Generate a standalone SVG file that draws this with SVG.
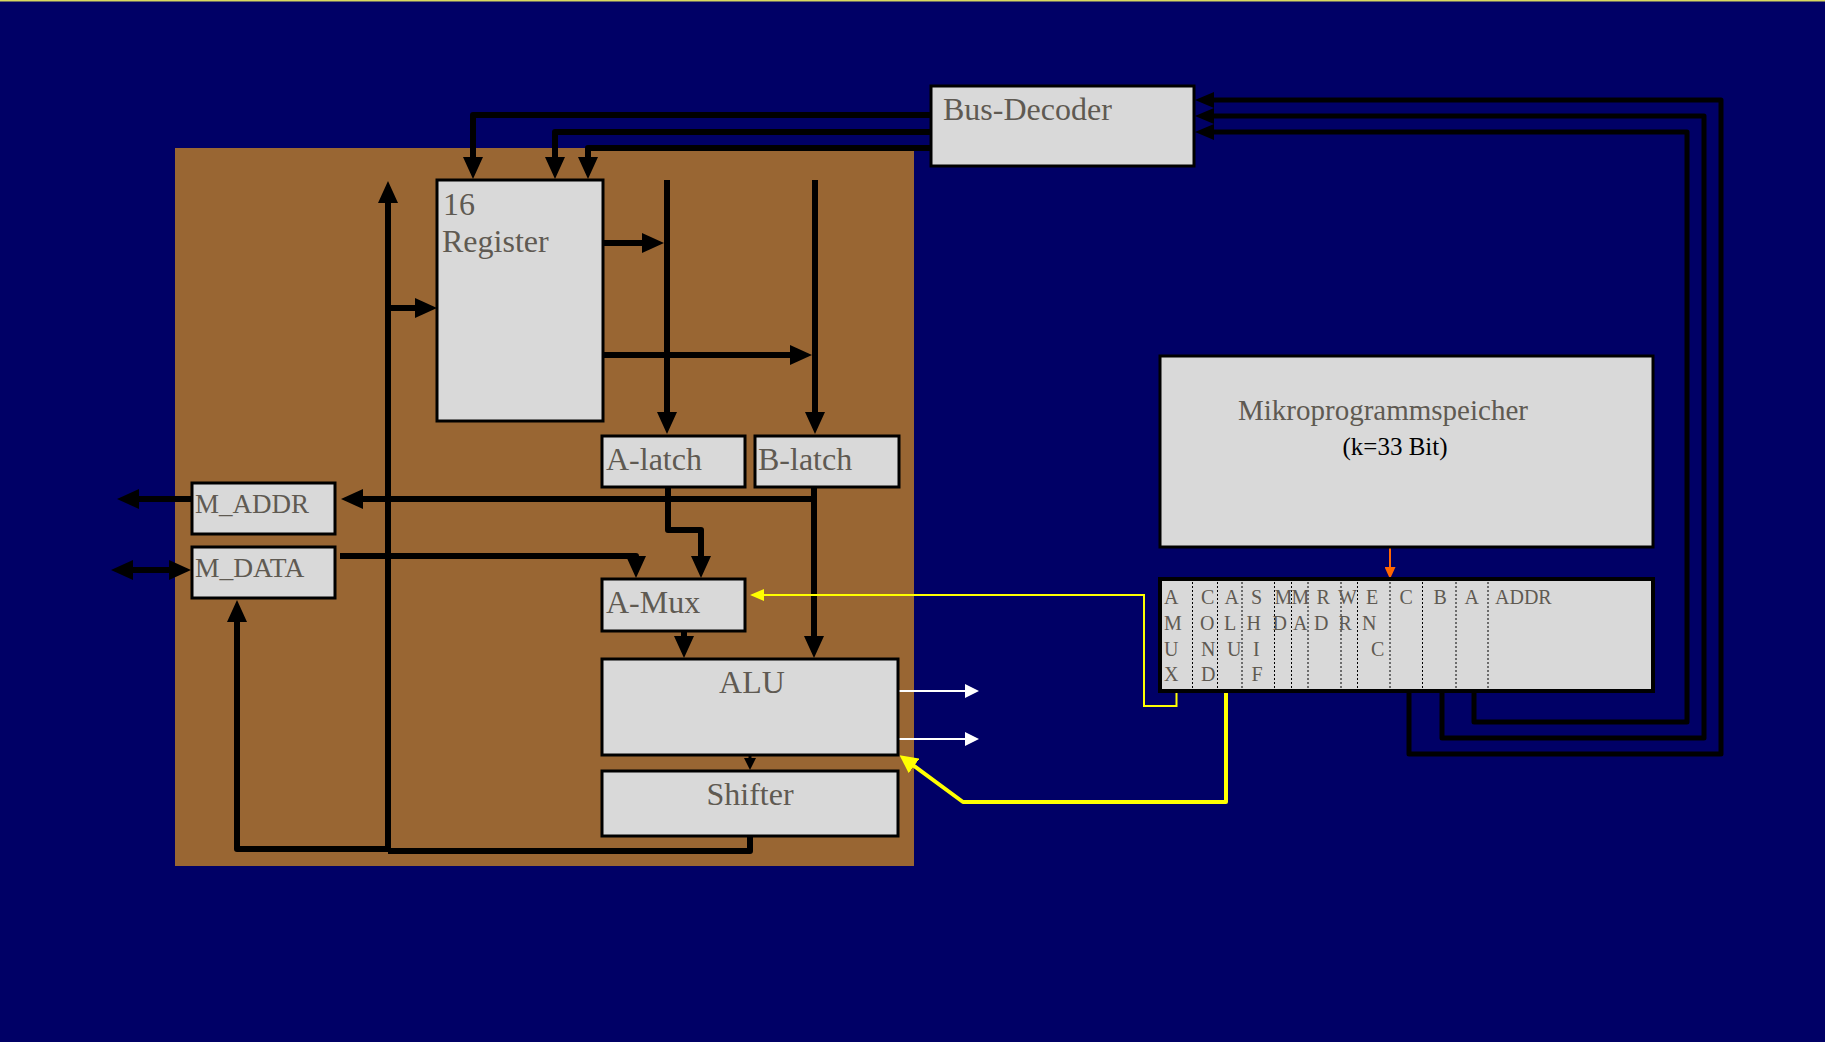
<svg xmlns="http://www.w3.org/2000/svg" width="1825" height="1042" viewBox="0 0 1825 1042">
<style>
.box{fill:#d9d9d9;stroke:#000;stroke-width:3}
.lbl{font-family:"Liberation Serif","Times New Roman",serif;fill:#5f5a52;font-size:32px}
.fld{font-family:"Liberation Serif","Times New Roman",serif;fill:#5f5a52;font-size:20px}
.bus{fill:none;stroke:#000;stroke-width:6;stroke-linejoin:round}
.bus5{fill:none;stroke:#000;stroke-width:5;stroke-linejoin:round}
.div{stroke:#000;stroke-width:1;stroke-dasharray:2,2}
</style>
<defs>
<marker id="ah" viewBox="0 0 22 20" markerWidth="22" markerHeight="20" refX="10" refY="10" orient="auto-start-reverse" markerUnits="userSpaceOnUse"><path d="M0,0 L22,10 L0,20 z" fill="#000"/></marker>
<marker id="ahr" viewBox="0 0 19 16" markerWidth="19" markerHeight="16" refX="9" refY="8" orient="auto" markerUnits="userSpaceOnUse"><path d="M0,0 L19,8 L0,16 z" fill="#000"/></marker>
<marker id="ahs" viewBox="0 0 12 12" markerWidth="12" markerHeight="12" refX="6" refY="6" orient="auto" markerUnits="userSpaceOnUse"><path d="M0,0 L12,6 L0,12 z" fill="#000"/></marker>
<marker id="ay" viewBox="0 0 14 12" markerWidth="14" markerHeight="12" refX="12" refY="6" orient="auto" markerUnits="userSpaceOnUse"><path d="M0,0 L14,6 L0,12 z" fill="#ffff00"/></marker>
<marker id="ay2" viewBox="0 0 18 18" markerWidth="18" markerHeight="18" refX="10" refY="9" orient="auto" markerUnits="userSpaceOnUse"><path d="M0,0 L18,9 L0,18 z" fill="#ffff00"/></marker>
<marker id="aw" viewBox="0 0 14 14" markerWidth="14" markerHeight="14" refX="12" refY="7" orient="auto" markerUnits="userSpaceOnUse"><path d="M0,0 L14,7 L0,14 z" fill="#fff"/></marker>
<marker id="ao" viewBox="0 0 12 11" markerWidth="12" markerHeight="11" refX="10" refY="5.5" orient="auto" markerUnits="userSpaceOnUse"><path d="M0,0 L12,5.5 L0,11 z" fill="#ff6600"/></marker>
</defs>
<rect x="0" y="0" width="1825" height="1042" fill="#000066"/>
<rect x="0" y="0" width="1825" height="1.5" fill="#d8d860"/>
<rect id="datapath-bg" x="175" y="148" width="739" height="718" fill="#996633"/>

<g id="connectors">
  <path class="bus" d="M931,115 H473 V167" marker-end="url(#ah)"/>
  <path class="bus" d="M931,132 H555 V167" marker-end="url(#ah)"/>
  <path class="bus" d="M931,148 H588 V167" marker-end="url(#ah)"/>
  <path class="bus" d="M388,851 V193" marker-end="url(#ah)"/>
  <path class="bus" d="M388,308 H425" marker-end="url(#ah)"/>
  <path class="bus" d="M603,243 H652" marker-end="url(#ah)"/>
  <path class="bus" d="M603,355 H800" marker-end="url(#ah)"/>
  <path class="bus" d="M667,180 V422" marker-end="url(#ah)"/>
  <path class="bus" d="M815,180 V422" marker-end="url(#ah)"/>
  <path class="bus" d="M814,487 V646" marker-end="url(#ah)"/>
  <path class="bus" d="M814,499 H353" marker-end="url(#ah)"/>
  <path class="bus" d="M191,499 H129" marker-end="url(#ah)"/>
  <path class="bus" d="M123,570 H179" marker-start="url(#ah)" marker-end="url(#ah)"/>
  <path class="bus" d="M340,556 H636 V566" marker-end="url(#ah)"/>
  <path class="bus" d="M668,487 V530 H701 V566" marker-end="url(#ah)"/>
  <path class="bus" d="M684,631 V646" marker-end="url(#ah)"/>
  <path d="M750,755 V764" stroke="#000" stroke-width="3" marker-end="url(#ahs)"/>
  <path class="bus" d="M750,836 V851 H388"/>
  <path class="bus" d="M388,849 H237 V612" marker-end="url(#ah)"/>
  <path class="bus5" d="M1409,692 V754 H1721 V100 H1205" marker-end="url(#ahr)"/>
  <path class="bus5" d="M1442,692 V738 H1704 V116 H1205" marker-end="url(#ahr)"/>
  <path class="bus5" d="M1474,692 V722 H1687 V132 H1205" marker-end="url(#ahr)"/>
  <path d="M1176.5,692 V706 H1144 V595 H752" fill="none" stroke="#ffff00" stroke-width="2" marker-end="url(#ay)"/>
  <path d="M1226,692 V802 H963 L906,760" fill="none" stroke="#ffff00" stroke-width="4" stroke-linejoin="round" marker-end="url(#ay2)"/>
  <path d="M898,691 H977" stroke="#fff" stroke-width="2" marker-end="url(#aw)"/>
  <path d="M898,739 H977" stroke="#fff" stroke-width="2" marker-end="url(#aw)"/>
  <path d="M1390,548 V577" stroke="#ff6600" stroke-width="2" marker-end="url(#ao)"/>
</g>

<g id="bus-decoder"><rect class="box" x="931" y="86" width="263" height="80"/><text class="lbl" x="943" y="120">Bus-Decoder</text></g>
<g id="register"><rect class="box" x="437" y="180" width="166" height="241"/><text class="lbl" x="443" y="215">16</text><text class="lbl" x="442" y="252">Register</text></g>
<g id="a-latch"><rect class="box" x="602" y="436" width="143" height="51"/><text class="lbl" x="606" y="470">A-latch</text></g>
<g id="b-latch"><rect class="box" x="755" y="436" width="144" height="51"/><text class="lbl" x="758" y="470">B-latch</text></g>
<g id="m-addr"><rect class="box" x="192" y="483" width="143" height="51"/><text class="lbl" x="195" y="513" style="font-size:27px">M_ADDR</text></g>
<g id="m-data"><rect class="box" x="192" y="547" width="143" height="51"/><text class="lbl" x="195" y="577" style="font-size:27.5px">M_DATA</text></g>
<g id="a-mux"><rect class="box" x="602" y="579" width="143" height="52"/><text class="lbl" x="606" y="613">A-Mux</text></g>
<g id="alu"><rect class="box" x="602" y="659" width="296" height="96"/><text class="lbl" x="752" y="693" text-anchor="middle">ALU</text></g>
<g id="shifter"><rect class="box" x="602" y="771" width="296" height="65"/><text class="lbl" x="750" y="805" text-anchor="middle">Shifter</text></g>
<g id="mikroprogrammspeicher"><rect class="box" x="1160" y="356" width="493" height="191"/><text class="lbl" x="1383" y="420" text-anchor="middle" style="font-size:29px">Mikroprogrammspeicher</text><text x="1395" y="455" text-anchor="middle" style="font-family:'Liberation Serif','Times New Roman',serif;font-size:25px;fill:#000">(k=33 Bit)</text></g>
<g id="mir">
  <rect class="box" x="1160" y="579" width="493" height="112" style="stroke-width:4"/>
  <line class="div" x1="1192.5" y1="582" x2="1192.5" y2="689"/>
  <line class="div" x1="1217.5" y1="582" x2="1217.5" y2="689"/>
  <line class="div" x1="1242" y1="582" x2="1242" y2="689"/>
  <line class="div" x1="1274.5" y1="582" x2="1274.5" y2="689"/>
  <line class="div" x1="1291.5" y1="582" x2="1291.5" y2="689"/>
  <line class="div" x1="1308" y1="582" x2="1308" y2="689"/>
  <line class="div" x1="1341" y1="582" x2="1341" y2="689"/>
  <line class="div" x1="1357.5" y1="582" x2="1357.5" y2="689"/>
  <line class="div" x1="1390" y1="582" x2="1390" y2="689"/>
  <line class="div" x1="1422.5" y1="582" x2="1422.5" y2="689"/>
  <line class="div" x1="1456" y1="582" x2="1456" y2="689"/>
  <line class="div" x1="1488" y1="582" x2="1488" y2="689"/>
  <text class="fld"><tspan x="1164" y="604">A</tspan><tspan x="1164" y="630">M</tspan><tspan x="1164" y="656">U</tspan><tspan x="1164" y="681">X</tspan></text>
  <text class="fld"><tspan x="1201" y="604">C</tspan><tspan x="1200" y="630">O</tspan><tspan x="1201" y="656">N</tspan><tspan x="1201" y="681">D</tspan></text>
  <text class="fld"><tspan x="1224.5" y="604">A</tspan><tspan x="1224" y="630">L</tspan><tspan x="1227" y="656">U</tspan></text>
  <text class="fld"><tspan x="1251" y="604">S</tspan><tspan x="1246.5" y="630">H</tspan><tspan x="1253" y="656">I</tspan><tspan x="1251.5" y="681">F</tspan></text>
  <text class="fld"><tspan x="1274.5" y="604">M</tspan><tspan x="1272.5" y="630">D</tspan></text>
  <text class="fld"><tspan x="1291.5" y="604">M</tspan><tspan x="1293" y="630">A</tspan></text>
  <text class="fld"><tspan x="1316.5" y="604">R</tspan><tspan x="1314" y="630">D</tspan></text>
  <text class="fld"><tspan x="1338" y="604">W</tspan><tspan x="1338.5" y="630">R</tspan></text>
  <text class="fld"><tspan x="1366" y="604">E</tspan><tspan x="1362" y="630">N</tspan><tspan x="1371" y="656">C</tspan></text>
  <text class="fld" x="1399.5" y="604">C</text>
  <text class="fld" x="1433.5" y="604">B</text>
  <text class="fld" x="1464.5" y="604">A</text>
  <text class="fld" x="1495" y="604">ADDR</text>
</g>
</svg>
